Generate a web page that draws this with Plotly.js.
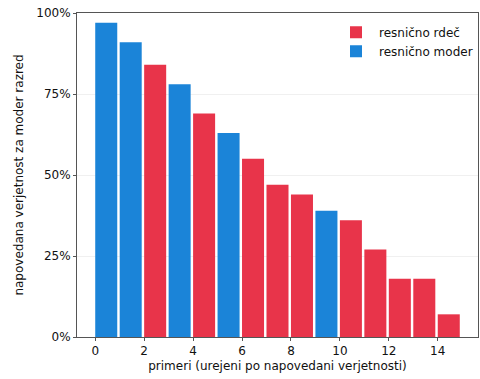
<!DOCTYPE html>
<html>
<head>
<meta charset="utf-8">
<script src="https://cdn.plot.ly/plotly-3.0.1.min.js"></script>
<style>html,body{margin:0;padding:0;background:#fff;}#chart{width:480px;height:379px;}</style>
</head>
<body>
<div id="chart"></div>
<script>
var indices = [0,1,2,3,4,5,6,7,8,9,10,11,12,13,14];
var probs = [0.97,0.91,0.84,0.78,0.69,0.63,0.55,0.47,0.44,0.39,0.36,0.27,0.18,0.18,0.07];
var trueClass = ['moder','moder','rdeč','moder','rdeč','moder','rdeč','rdeč','rdeč','moder','rdeč','rdeč','rdeč','rdeč','rdeč'];
var redColor = '#e8344a';
var blueColor = '#1b84d8';

function series(cls, name, color){
  var x=[], y=[];
  for (var i=0;i<indices.length;i++){
    if (trueClass[i]===cls){ x.push(indices[i]+0.45); y.push(probs[i]); }
  }
  return {type:'bar', x:x, y:y, width:0.9, name:name, marker:{color:color, line:{width:0}}};
}
var data = [series('rdeč','resnično rdeč',redColor), series('moder','resnično moder',blueColor)];
var layout = {
  width:480, height:379,
  margin:{l:77, r:2, t:13, b:42},
  paper_bgcolor:'#fff', plot_bgcolor:'#fff',
  font:{family:'DejaVu Sans, sans-serif', size:12, color:'#111'},
  barmode:'overlay',
  showlegend:true,
  legend:{x:1.0, xanchor:'right', y:0.985, yanchor:'top', bgcolor:'rgba(255,255,255,0)', font:{size:12}, traceorder:'normal', itemwidth:36},
  xaxis:{range:[-0.745,15.645], tickvals:[0,2,4,6,8,10,12,14], showgrid:false, zeroline:false,
    showline:true, linecolor:'#555', linewidth:1, mirror:true, ticks:'outside', ticklen:3, tickcolor:'#555',
    title:{text:'primeri (urejeni po napovedani verjetnosti)', font:{size:12}, standoff:4}},
  yaxis:{range:[0,1], tickvals:[0,0.25,0.5,0.75,1], tickformat:'.0%', showgrid:true, gridcolor:'#f0f0f0', zeroline:false,
    showline:true, linecolor:'#555', linewidth:1, mirror:true, ticks:'outside', ticklen:3, tickcolor:'#555',
    title:{text:'napovedana verjetnost za moder razred', font:{size:12}, standoff:10}}
};
Plotly.newPlot('chart', data, layout, {displayModeBar:false, staticPlot:true});
</script>
</body>
</html>
